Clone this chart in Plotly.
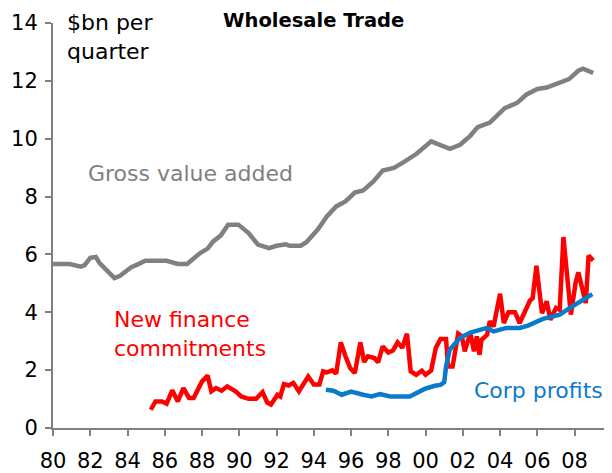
import plotly.graph_objects as go

# Gross value added ($bn per quarter)
gva_year = [1980.0, 1980.9, 1981.5, 1981.7, 1982.0, 1982.3, 1982.5, 1983.3, 1983.6, 1984.2,
            1984.5, 1984.95, 1986.1, 1986.4, 1986.7, 1987.2, 1987.5, 1987.9, 1988.3, 1988.6,
            1989.0, 1989.4, 1989.95, 1990.5, 1991.0, 1991.6, 1992.0, 1992.5, 1992.7, 1993.3,
            1993.6, 1994.2, 1994.7, 1995.2, 1995.7, 1996.2, 1996.65, 1997.2, 1997.7, 1998.3,
            1998.8, 1999.25, 1999.5, 2000.3, 2001.3, 2001.85, 2002.4, 2002.8, 2003.45, 2004.25,
            2004.9, 2005.4, 2006.0, 2006.5, 2007.0, 2007.7, 2008.2, 2008.45, 2009.0]
gva_val = [5.67, 5.67, 5.58, 5.63, 5.88, 5.91, 5.70, 5.18, 5.26, 5.56,
           5.64, 5.78, 5.78, 5.72, 5.67, 5.67, 5.84, 6.05, 6.20, 6.45,
           6.65, 7.03, 7.03, 6.74, 6.34, 6.22, 6.30, 6.35, 6.30, 6.30,
           6.42, 6.85, 7.31, 7.66, 7.83, 8.14, 8.21, 8.52, 8.90, 8.99,
           9.18, 9.39, 9.47, 9.91, 9.65, 9.79, 10.10, 10.40, 10.56, 11.06,
           11.23, 11.52, 11.72, 11.77, 11.89, 12.06, 12.35, 12.42, 12.27]

# New finance commitments
nfc_year = [1985.25, 1985.5, 1985.85, 1986.1, 1986.4, 1986.7, 1987.0, 1987.3, 1987.55, 1988.0,
            1988.3, 1988.5, 1988.75, 1989.05, 1989.35, 1989.8, 1990.1, 1990.5, 1990.9, 1991.25,
            1991.5, 1991.7, 1992.05, 1992.2, 1992.4, 1992.65, 1992.9, 1993.2, 1993.7, 1994.0,
            1994.3, 1994.5, 1994.7, 1995.0, 1995.2, 1995.45, 1995.7, 1995.95, 1996.2, 1996.5,
            1996.7, 1996.9, 1997.25, 1997.45, 1997.7, 1998.0, 1998.25, 1998.5, 1998.75, 1999.0,
            1999.2, 1999.5, 1999.8, 2000.0, 2000.3, 2000.55, 2000.8, 2001.1, 2001.2, 2001.45,
            2001.75, 2001.95, 2002.1, 2002.4, 2002.6, 2002.75, 2002.9, 2003.0, 2003.3, 2003.45,
            2003.65, 2004.0, 2004.2, 2004.45, 2004.8, 2005.05, 2005.6, 2005.75, 2005.95, 2006.25,
            2006.5, 2006.7, 2007.0, 2007.2, 2007.4, 2007.8, 2008.05, 2008.2, 2008.6, 2008.75,
            2009.0]
nfc_val = [0.63, 0.92, 0.92, 0.84, 1.30, 0.92, 1.38, 1.04, 1.04, 1.61,
           1.81, 1.27, 1.38, 1.29, 1.44, 1.27, 1.09, 1.01, 1.01, 1.24,
           0.88, 0.81, 1.15, 1.09, 1.52, 1.47, 1.56, 1.27, 1.78, 1.50,
           1.50, 1.96, 1.92, 1.99, 1.88, 2.96, 2.48, 2.07, 1.90, 2.96,
           2.28, 2.48, 2.42, 2.27, 2.82, 2.61, 2.68, 2.96, 2.77, 3.26,
           1.96, 1.84, 1.98, 1.84, 1.99, 2.77, 3.08, 3.08, 2.13, 2.13,
           3.26, 3.17, 2.65, 3.28, 2.65, 3.17, 2.53, 3.05, 3.22, 3.69,
           3.51, 4.64, 3.63, 4.00, 4.00, 3.63, 4.40, 4.49, 5.61, 3.97,
           4.38, 3.74, 4.15, 4.09, 6.60, 3.92, 5.01, 5.38, 4.32, 5.96,
           5.79]

# Corporate profits
cp_year = [1994.65, 1995.05, 1995.5, 1996.0, 1996.65, 1997.1, 1997.55, 1998.1, 1999.15, 1999.5,
           1999.95, 2000.5, 2000.8, 2001.0, 2001.1, 2001.3, 2001.85, 2002.4, 2002.9, 2003.3,
           2003.65, 2004.35, 2005.05, 2005.5, 2006.3, 2006.75, 2007.2, 2007.75, 2008.35, 2008.95]
cp_val = [1.32, 1.29, 1.15, 1.26, 1.15, 1.09, 1.17, 1.09, 1.09, 1.21,
          1.35, 1.46, 1.49, 1.58, 2.13, 2.71, 3.11, 3.30, 3.40, 3.46,
          3.34, 3.46, 3.46, 3.54, 3.77, 3.86, 3.92, 4.15, 4.38, 4.63]

x_tickvals = [1980, 1982, 1984, 1986, 1988, 1990, 1992, 1994, 1996, 1998, 2000, 2002, 2004, 2006, 2008]
x_ticktext = ["80", "82", "84", "86", "88", "90", "92", "94", "96", "98", "00", "02", "04", "06", "08"]
y_tickvals = [0, 2, 4, 6, 8, 10, 12, 14]

GRAY = "#808080"
RED = "#FF0000"
BLUE = "#0A7BCB"
FONT = "DejaVu Sans"

fig = go.Figure()
fig.add_trace(go.Scatter(x=gva_year, y=gva_val, mode="lines",
                         line=dict(color=GRAY, width=4.5), showlegend=False))
fig.add_trace(go.Scatter(x=nfc_year, y=nfc_val, mode="lines",
                         line=dict(color=RED, width=4.5), showlegend=False))
fig.add_trace(go.Scatter(x=cp_year, y=cp_val, mode="lines",
                         line=dict(color=BLUE, width=4.5), showlegend=False))

ann = [
    dict(text="<b>Wholesale Trade</b>", x=1993.98, y=1.005, xref="x", yref="paper",
         xanchor="center", yanchor="middle", font=dict(size=19.5, color="black")),
    dict(text="$bn per<br>quarter", x=1980.71, y=13.5, xref="x", yref="y",
         xanchor="left", yanchor="middle", align="left", font=dict(size=22, color="black")),
    dict(text="Gross value added", x=1981.84, y=8.79, xref="x", yref="y",
         xanchor="left", yanchor="middle", font=dict(size=22, color=GRAY)),
    dict(text="New finance<br>commitments", x=1983.24, y=3.26, xref="x", yref="y",
         xanchor="left", yanchor="middle", align="left", font=dict(size=22, color=RED)),
    dict(text="Corp profits", x=2002.54, y=1.31, xref="x", yref="y",
         xanchor="left", yanchor="middle", font=dict(size=22, color=BLUE)),
]
for a in ann:
    a["showarrow"] = False
    a["borderpad"] = 0
fig.update_layout(annotations=ann)

# page body adds an 8px margin, so the figure is sized to fit the 612x473 window
fig.update_layout(
    width=604, height=465,
    margin=dict(l=45, r=2, t=15, b=45, pad=0),
    paper_bgcolor="white", plot_bgcolor="white",
    font=dict(family=FONT, size=21, color="black"),
    xaxis=dict(range=[1980, 2009.9], tickvals=x_tickvals, ticktext=x_ticktext,
               showgrid=False, zeroline=False, showline=True, linecolor=GRAY, linewidth=2,
               ticks="outside", ticklen=6, tickwidth=2, tickcolor=GRAY,
               ticklabelstandoff=7, automargin=False,
               tickfont=dict(family=FONT, size=21, color="black")),
    yaxis=dict(range=[0, 14], tickvals=y_tickvals,
               showgrid=False, zeroline=False, showline=True, linecolor=GRAY, linewidth=2,
               ticks="outside", ticklen=6, tickwidth=2, tickcolor=GRAY,
               ticklabelstandoff=3, automargin=False,
               tickfont=dict(family=FONT, size=21, color="black")),
)

fig.write_html("out.html")
